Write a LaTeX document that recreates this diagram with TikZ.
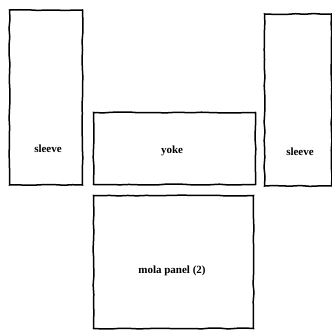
\documentclass[tikz,border=0pt]{standalone}
\usepackage{fontspec}
\setmainfont{Liberation Serif}
\usepackage{tikz}
\usetikzlibrary{positioning,decorations.pathmorphing}

\begin{document}
\pgfmathsetseed{7}
\begin{tikzpicture}[x=1pt, y=-1pt,
    piece/.style={rectangle, draw, line width=1.5pt, inner sep=0pt,
        decorate, decoration={random steps, segment length=9pt, amplitude=0.5pt}},
    tag/.style={font=\fontsize{11}{12}\selectfont\bfseries, inner sep=0pt}
]
    \useasboundingbox (0,0) rectangle (332,331);

    % pattern pieces
    \node[piece, minimum width=73pt, minimum height=175pt] (sleeveL) at (46,97.5) {};
    \node[piece, minimum width=162pt, minimum height=72pt] (yoke) at (174.5,148.5) {};
    \node[piece, minimum width=67pt, minimum height=172pt] (sleeveR) at (298,100) {};
    \node[piece, minimum width=160pt, minimum height=133pt] (mola) at (173.5,262) {};

    % labels
    \node[tag] (sleeveLtxt) at (48,149) {sleeve};
    \node[tag] (yoketxt) at (172,151) {yoke};
    \node[tag] (sleeveRtxt) at (300,152) {sleeve};
    \node[tag] (molatxt) at (172,271) {mola panel (2)};

\end{tikzpicture}
\end{document}
